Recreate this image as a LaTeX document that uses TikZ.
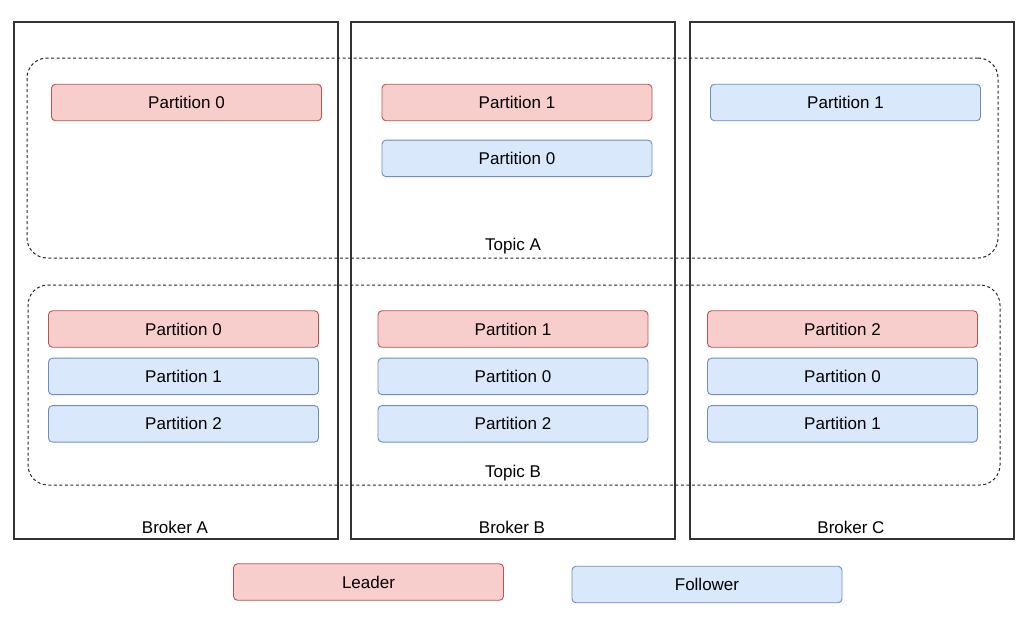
\documentclass[tikz,border=0pt]{standalone}
\usepackage{fontspec}
\setmainfont{Liberation Sans}
\usetikzlibrary{positioning}
\definecolor{leaderfill}{HTML}{F8CECC}
\definecolor{leaderline}{HTML}{B85450}
\definecolor{followfill}{HTML}{DAE8FC}
\definecolor{followline}{HTML}{6C8EBF}
\begin{document}
\begin{tikzpicture}[x=1pt, y=-1pt, node distance=10pt, font=\fontsize{17}{20}\selectfont]
  \tikzstyle{broker} = [rectangle, draw=black!80, line width=1.1pt, minimum width=324pt, minimum height=517pt, inner sep=0pt]
  \tikzstyle{topic} = [rectangle, rounded corners=20pt, draw=black!85, line width=1pt, dash pattern=on 3pt off 2.5pt, minimum height=200pt, inner sep=0pt]
  \tikzstyle{leader} = [rectangle, rounded corners=4pt, draw=leaderline, fill=leaderfill, line width=0.9pt, minimum width=270pt, minimum height=36.5pt, inner sep=0pt]
  \tikzstyle{follower} = [rectangle, rounded corners=4pt, draw=followline, fill=followfill, line width=0.9pt, minimum width=270pt, minimum height=36.5pt, inner sep=0pt]
  \useasboundingbox (0,0) rectangle (1034,619);
  % Brokers
  \node [broker] (broker-a) at (176,280.5) {};
  \node [broker] (broker-b) at (513,280.5) {};
  \node [broker] (broker-c) at (852,280.5) {};
  \node (broker-a-label) at (175,527) {Broker A};
  \node (broker-b-label) at (512,527) {Broker B};
  \node (broker-c-label) at (851,527) {Broker C};
  % Topics
  \node [topic, minimum width=971pt] (topic-a) at (512.5,158) {};
  \node [topic, minimum width=972pt] (topic-b) at (514,385) {};
  \node (topic-a-label) at (513,246) {Topic A};
  \node (topic-b-label) at (513,473) {Topic B};
  % Topic A partitions
  \node [leader] (a-p0-a) at (186.5,102.5) {Partition 0};
  \node [leader] (a-p1-b) at (517,102.5) {Partition 1};
  \node [follower, below=18.5pt of a-p1-b] (a-p0-b) {Partition 0};
  \node [follower] (a-p1-c) at (845.5,102.5) {Partition 1};
  % Topic B partitions
  \node [leader] (b-p0-a) at (183.5,329) {Partition 0};
  \node [follower, below=of b-p0-a] (b-p1-a) {Partition 1};
  \node [follower, below=of b-p1-a] (b-p2-a) {Partition 2};
  \node [leader] (b-p1-b) at (513,329) {Partition 1};
  \node [follower, below=of b-p1-b] (b-p0-b) {Partition 0};
  \node [follower, below=of b-p0-b] (b-p2-b) {Partition 2};
  \node [leader] (b-p2-c) at (842.5,329) {Partition 2};
  \node [follower, below=of b-p2-c] (b-p0-c) {Partition 0};
  \node [follower, below=of b-p0-c] (b-p1-c) {Partition 1};
  % Legend
  \node [leader] (leader-key) at (368.5,582) {Leader};
  \node [follower] (follower-key) at (707,584.5) {Follower};
\end{tikzpicture}
\end{document}
